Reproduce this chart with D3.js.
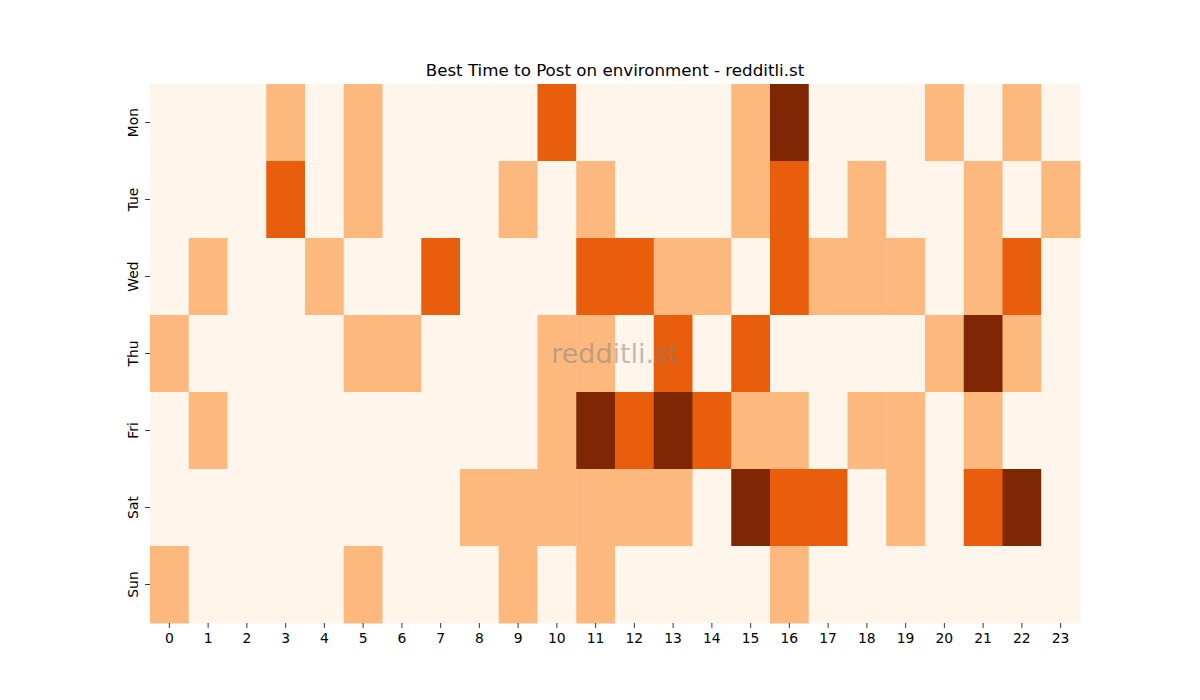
<!DOCTYPE html>
<html>
<head>
<meta charset="utf-8">
<script src="https://cdn.jsdelivr.net/npm/d3@7"></script>
<style>
  body { margin: 0; background: #fff; }
  text { font-family: "DejaVu Sans", sans-serif; }
</style>
</head>
<body>
<div id="container"></div>
<script>
/* DATA */
const days = ["Mon", "Tue", "Wed", "Thu", "Fri", "Sat", "Sun"];
const hours = d3.range(24).map(String);
const mon = [0,0,0,1,0,1,0,0,0,0,2,0,0,0,0,1,3,0,0,0,1,0,1,0];
const tue = [0,0,0,2,0,1,0,0,0,1,0,1,0,0,0,1,2,0,1,0,0,1,0,1];
const wed = [0,1,0,0,1,0,0,2,0,0,0,2,2,1,1,0,2,1,1,1,0,1,2,0];
const thu = [1,0,0,0,0,1,1,0,0,0,1,1,0,2,0,2,0,0,0,0,1,3,1,0];
const fri = [0,1,0,0,0,0,0,0,0,0,1,3,2,3,2,1,1,0,1,1,0,1,0,0];
const sat = [0,0,0,0,0,0,0,0,1,1,1,1,1,1,0,3,2,2,0,1,0,2,3,0];
const sun = [1,0,0,0,0,1,0,0,0,1,0,1,0,0,0,0,1,0,0,0,0,0,0,0];
const rows = [mon, tue, wed, thu, fri, sat, sun];

/* CONSTANTS */
const width = 1200, height = 700,
  margin = { top: 84, bottom: 77, left: 150, right: 120 };

const cells = [];
rows.forEach((r, i) => r.forEach((v, j) => cells.push({ day: days[i], hour: hours[j], value: v })));

// SCALES
const xScale = d3.scaleBand().domain(hours).range([margin.left, width - margin.right]);
const yScale = d3.scaleBand().domain(days).range([margin.top, height - margin.bottom]);
const color = d3.scaleOrdinal().domain([0, 1, 2, 3])
  .range(["#fff5eb", "#fdb97d", "#e95e0d", "#7f2704"]);

const svg = d3.select("#container").append("svg")
  .attr("width", width)
  .attr("height", height);

// CELLS
svg.selectAll(".cell")
  .data(cells)
  .join("rect")
  .attr("class", "cell")
  .attr("x", d => xScale(d.hour))
  .attr("y", d => yScale(d.day))
  .attr("width", xScale.bandwidth() + 0.5)
  .attr("height", yScale.bandwidth() + 0.5)
  .attr("fill", d => color(d.value));

// AXES
const xAxis = svg.append("g")
  .attr("transform", `translate(0,${height - margin.bottom})`)
  .call(d3.axisBottom(xScale).tickSize(4.9).tickPadding(4.9));
const yAxis = svg.append("g")
  .attr("transform", `translate(${margin.left},0)`)
  .call(d3.axisLeft(yScale).tickSize(4.9).tickPadding(4.9));

[xAxis, yAxis].forEach(a => {
  a.select(".domain").remove();
  a.selectAll("text").attr("font-size", 13.9).attr("fill", "#000")
    .attr("font-family", "DejaVu Sans, sans-serif");
  a.selectAll("line").attr("stroke", "#000").attr("stroke-width", 0.8);
});
// rotated day labels
yAxis.selectAll("text")
  .attr("x", null).attr("dy", null)
  .attr("text-anchor", "middle")
  .attr("transform", "translate(-12.5,0) rotate(-90)");

// TITLE
svg.append("text")
  .attr("x", (margin.left + width - margin.right) / 2)
  .attr("y", 76)
  .attr("text-anchor", "middle")
  .attr("font-size", 16.7)
  .attr("fill", "#000")
  .text("Best Time to Post on environment - redditli.st");

// WATERMARK
svg.append("text")
  .attr("x", (margin.left + width - margin.right) / 2)
  .attr("y", yScale("Thu") + yScale.bandwidth() / 2 + 9)
  .attr("text-anchor", "middle")
  .attr("font-size", 27)
  .attr("fill", "#808080")
  .attr("fill-opacity", 0.5)
  .text("redditli.st");
</script>
</body>
</html>
